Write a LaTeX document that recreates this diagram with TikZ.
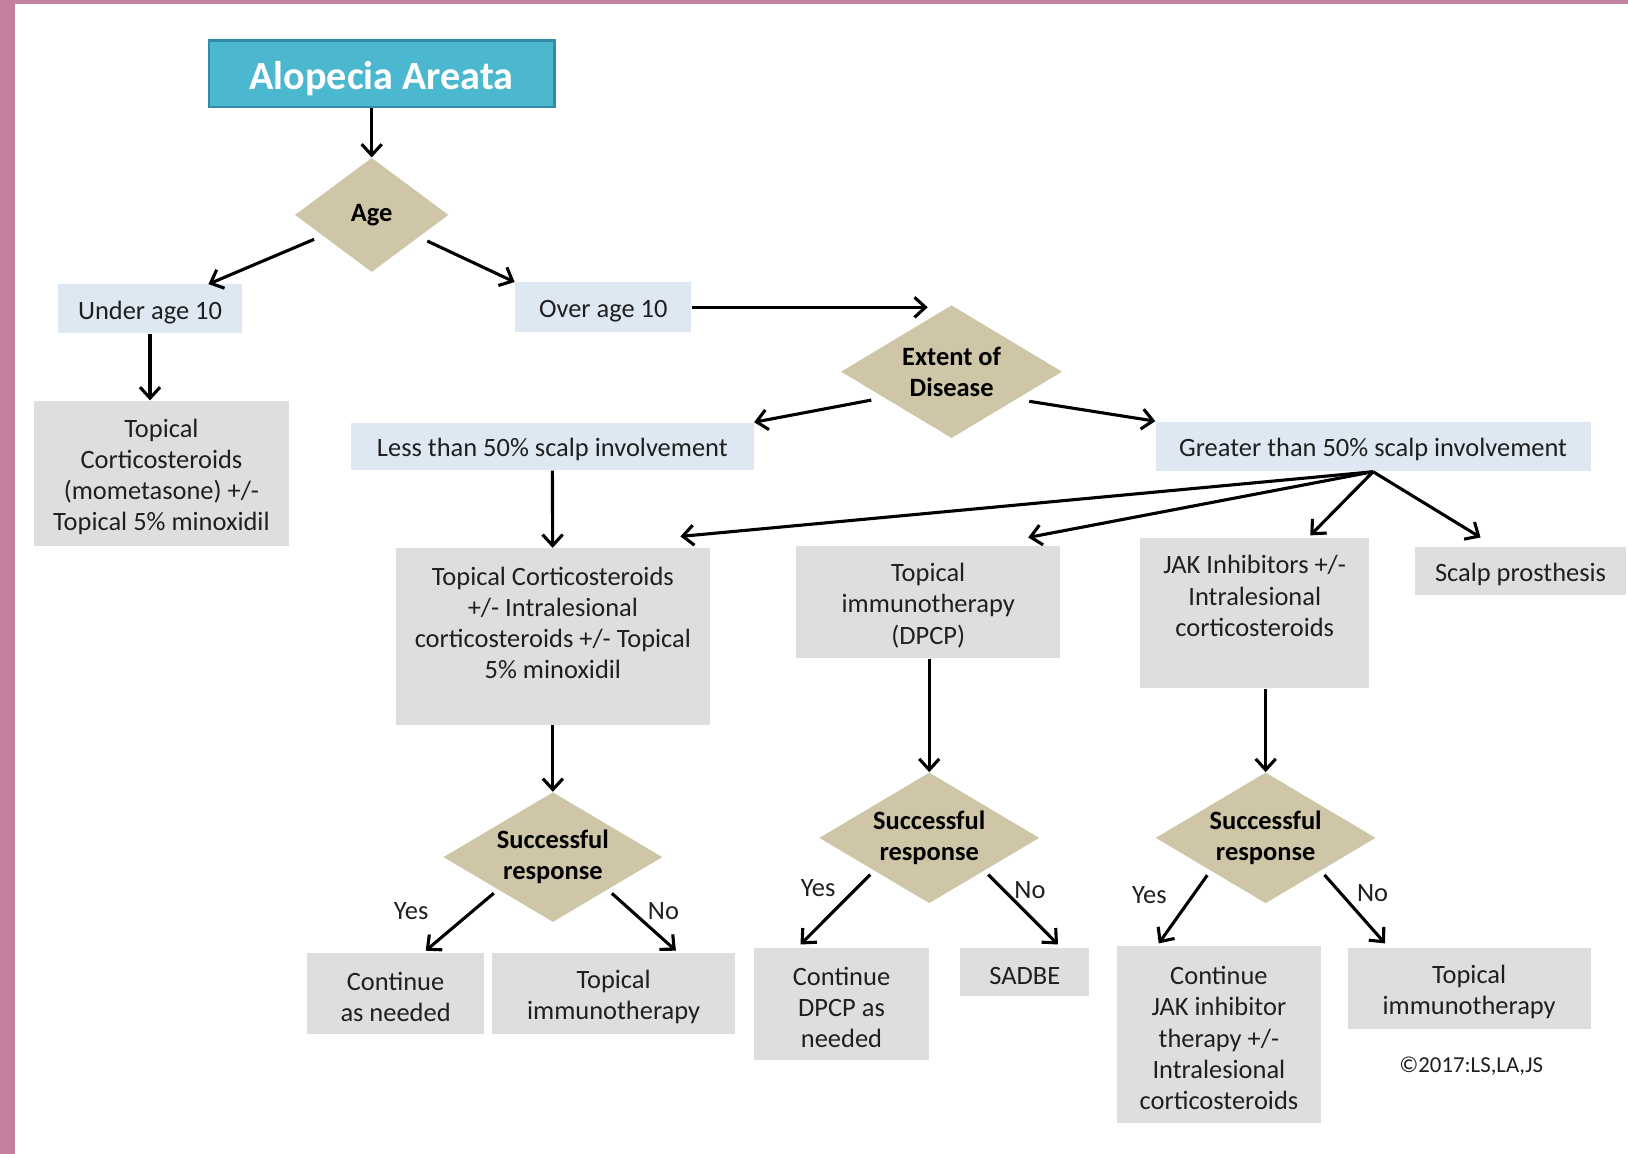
\documentclass[tikz,border=0pt]{standalone}
\usepackage{fontspec}
\setmainfont{Carlito}
\usetikzlibrary{shapes.geometric,arrows.meta}
\definecolor{framepink}{RGB}{194,127,160}
\definecolor{titlecyan}{RGB}{76,184,208}
\definecolor{titleedge}{RGB}{52,140,165}
\definecolor{decisiontan}{RGB}{206,198,167}
\definecolor{groupblue}{RGB}{222,232,243}
\definecolor{treatgray}{RGB}{222,222,222}
\newcommand{\flowstrut}{\rule{0pt}{0.95em}}
\begin{document}
\begin{tikzpicture}[x=0.02cm, y=-0.02cm,
  every node/.style={font=\fontsize{14.5}{17.1}\selectfont, text=black!88, align=center, inner sep=0pt},
  titlebox/.style={fill=titlecyan, draw=titleedge, line width=1.3pt, text=white, font=\fontsize{22}{26}\selectfont\bfseries},
  decision/.style={diamond, fill=decisiontan, text=black, font=\fontsize{14.5}{17.1}\selectfont\bfseries},
  groupbox/.style={fill=groupblue},
  treatbox/.style={fill=treatgray},
  flow/.style={-{Straight Barb[length=6pt,width=11pt]}, line width=1.7pt, black}]

\fill[white] (0,0) rectangle (1568,1111);
\fill[framepink] (0,0) rectangle (14,1111);
\fill[framepink] (0,0) rectangle (1568,4);

\node[titlebox, minimum width=6.66cm, minimum height=1.28cm] (title) at (367.5,71) {\flowstrut Alopecia Areata};
\node[decision, shape aspect=1.35, minimum width=2.96cm, minimum height=2.2cm] (age) at (358,207) {Age};
\node[groupbox, minimum width=3.54cm, minimum height=0.94cm] (under) at (144.5,297.5) {\flowstrut Under age 10};
\node[groupbox, minimum width=3.4cm, minimum height=0.96cm] (over) at (581,296) {\flowstrut Over age 10};
\node[treatbox, minimum width=4.9cm, minimum height=2.8cm] (steroid) at (155.5,456) {\flowstrut Topical\\Corticosteroids\\(mometasone) +/-\\Topical 5\% minoxidil};

\node[decision, shape aspect=1.66, minimum width=4.26cm, minimum height=2.56cm] (extent) at (916.5,358) {Extent of\\Disease};
\node[groupbox, minimum width=7.76cm, minimum height=0.92cm] (less) at (532,430) {\flowstrut Less than 50\% scalp involvement};
\node[groupbox, minimum width=8.38cm, minimum height=0.96cm] (greater) at (1322.5,430) {\flowstrut Greater than 50\% scalp involvement};

\node[treatbox, minimum width=6.06cm, minimum height=3.4cm] (combo) at (532.5,613) {};
\node (combotext) at (532.5,600) {Topical Corticosteroids\\+/- Intralesional\\corticosteroids +/- Topical\\5\% minoxidil};
\node[treatbox, minimum width=5.08cm, minimum height=2.16cm] (dpcp) at (894,580) {\flowstrut Topical\\immunotherapy\\(DPCP)};
\node[treatbox, minimum width=4.42cm, minimum height=2.9cm] (jak) at (1208.5,590.5) {};
\node (jaktext) at (1208.5,574) {JAK Inhibitors +/-\\Intralesional\\corticosteroids};
\node[treatbox, minimum width=4.06cm, minimum height=0.92cm] (prosthesis) at (1464.5,550) {\flowstrut Scalp prosthesis};

\node[decision, shape aspect=1.68, minimum width=4.22cm, minimum height=2.5cm] (dec1) at (532.5,825.5) {Successful\\response};
\node[decision, shape aspect=1.68, minimum width=4.24cm, minimum height=2.52cm] (dec2) at (895,807) {Successful\\response};
\node[decision, shape aspect=1.68, minimum width=4.24cm, minimum height=2.52cm] (dec3) at (1219,807) {Successful\\response};

\node[treatbox, minimum width=3.4cm, minimum height=1.56cm] (cont1) at (381,957) {\flowstrut Continue\\as needed};
\node[treatbox, minimum width=4.68cm, minimum height=1.56cm] (immuno1) at (591,957) {\flowstrut Topical\\immunotherapy};
\node[treatbox, minimum width=3.38cm, minimum height=2.16cm] (cont2) at (810.5,967) {\flowstrut Continue\\DPCP as\\needed};
\node[treatbox, minimum width=2.48cm, minimum height=0.92cm] (sadbe) at (987,936) {\flowstrut SADBE};
\node[treatbox, minimum width=3.92cm, minimum height=3.42cm] (cont3) at (1174,996.5) {\flowstrut Continue\\JAK inhibitor\\therapy +/-\\Intralesional\\corticosteroids};
\node[treatbox, minimum width=4.68cm, minimum height=1.56cm] (immuno2) at (1415,952) {\flowstrut Topical\\immunotherapy};

\node (yes1) at (396,878) {Yes};
\node (no1) at (639,878) {No};
\node (yes2) at (788,855) {Yes};
\node (no2) at (992,857) {No};
\node (yes3) at (1107,862) {Yes};
\node (no3) at (1322,860) {No};
\node[font=\fontsize{12.5}{15}\selectfont] (copyright) at (1417,1027) {\textcopyright2017:LS,LA,JS};

\draw[flow] (age.north |- title.south) -- (age.north);
\draw[flow, shorten <=5pt] (age) -- (under);
\draw[flow, shorten <=5pt] (age) -- (over.north west);
\draw[flow] (under) -- (under |- steroid.north);
\draw[flow, shorten >=0.46cm] (over) -- (over -| extent.north);
\draw[flow, shorten <=7pt] (extent.201) -- (less.north east);
\draw[flow, shorten <=7pt] (extent.337) -- (greater.north west);
\draw[flow] (less) -- (combo);

\draw[flow] (greater.south) -- ([shift={(-29,-11)}]combo.north east);
\draw[flow] (greater.south) -- ([shift={(-31,-8)}]dpcp.north east);
\draw[flow] (greater.south) -- ([shift={(53.5,-2)}]jak.north);
\draw[flow] (greater.south) -- ([shift={(-38.5,-9)}]prosthesis.north);

\draw[flow] (combo) -- (dec1);
\draw[flow] (dec2.north |- dpcp.south) -- (dec2.north);
\draw[flow] (dec3.north |- jak.south) -- (dec3.north);

\draw[flow, shorten <=3pt] (dec1.south west) -- ([shift={(29,-2)}]cont1.north);
\draw[flow, shorten <=3pt] (dec1.south east) -- ([shift={(60,-2)}]immuno1.north);
\draw[flow, shorten <=3pt] (dec2.south west) -- ([shift={(-39.5,-3)}]cont2.north);
\draw[flow, shorten <=3pt] (dec2.south east) -- ([shift={(32,-3)}]sadbe.north);
\draw[flow, shorten <=3pt] (dec3.south west) -- ([shift={(-58,-2)}]cont3.north);
\draw[flow, shorten <=3pt] (dec3.south east) -- ([shift={(-81,-4)}]immuno2.north);

\end{tikzpicture}
\end{document}
